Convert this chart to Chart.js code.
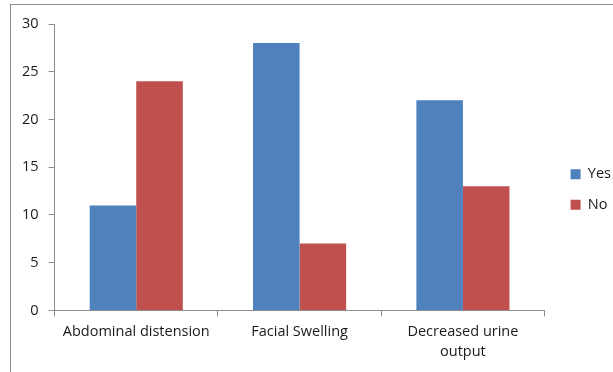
<!DOCTYPE html>
<html>
<head>
<meta charset="utf-8">
<script src="https://cdn.jsdelivr.net/npm/chart.js@4/dist/chart.umd.min.js"></script>
<style>
  html, body { margin: 0; padding: 0; background: #fff; }
  #wrap { position: relative; width: 613px; height: 372px; overflow: hidden; }
  #frame { position: absolute; left: 10px; top: 4px; width: 700px; height: 500px; border-left: 1px solid #8c8c8c; border-top: 1px solid #8c8c8c; }
  canvas { position: absolute; left: 0; top: 0; }
</style>
</head>
<body>
<div id="wrap">
  <div id="frame"></div>
  <canvas id="barChart" width="613" height="372"></canvas>
</div>
<script>
var categories = [['Abdominal distension'], ['Facial Swelling'], ['Decreased urine', 'output']]
var yesValues  = [11, 28, 22]
var noValues   = [24, 7, 13]
var yTicks     = [0, 5, 10, 15, 20, 25, 30]

var ctx = document.getElementById('barChart').getContext('2d')
Chart.defaults.font.family = '"Open Sans", "Liberation Sans", sans-serif'
Chart.defaults.font.size = 14.5
Chart.defaults.color = '#1a1a1a'

// legend box: a bit wider, items pushed right and up a little
var legendNudge = {
  id: 'legendNudge',
  beforeInit: function (chart) {
    var fit = chart.legend.fit
    chart.legend.fit = function () {
      fit.call(this)
      this.width += 2
    }
  },
  afterLayout: function (chart) {
    chart.legend.left += 10
    chart.legend.top -= 6
    chart.legend.bottom -= 6
  }
}

var barData = {
  labels: categories,
  datasets: [
    { label: 'Yes', data: yesValues, backgroundColor: '#4F81BD' },
    { label: 'No',  data: noValues,  backgroundColor: '#C0504D' }
  ]
}

var barOptions = {
  responsive: false,
  animation: false,
  datasets: { bar: { categoryPercentage: 0.57, barPercentage: 1 } },
  layout: { padding: { left: 12, top: 24, right: 0, bottom: 5 } },
  plugins: {
    legend: {
      position: 'right',
      labels: { boxWidth: 10, boxHeight: 10, padding: 16 }
    },
    tooltip: { enabled: false }
  },
  scales: {
    x: {
      grid: { display: true, drawOnChartArea: false, offset: true, color: '#8c8c8c', tickLength: 6 },
      border: { color: '#8c8c8c' },
      ticks: { maxRotation: 0, autoSkip: false, padding: 5, font: { lineHeight: 1.4 } }
    },
    y: {
      min: 0, max: 30,
      afterBuildTicks: function (axis) { axis.ticks = yTicks.map(function (v) { return { value: v } }) },
      grid: { display: true, drawOnChartArea: false, color: '#8c8c8c', tickLength: 6 },
      border: { color: '#8c8c8c' },
      ticks: { padding: 10 }
    }
  }
}

var barChart = new Chart(ctx, { type: 'bar', data: barData, options: barOptions, plugins: [legendNudge] })
</script>
</body>
</html>
